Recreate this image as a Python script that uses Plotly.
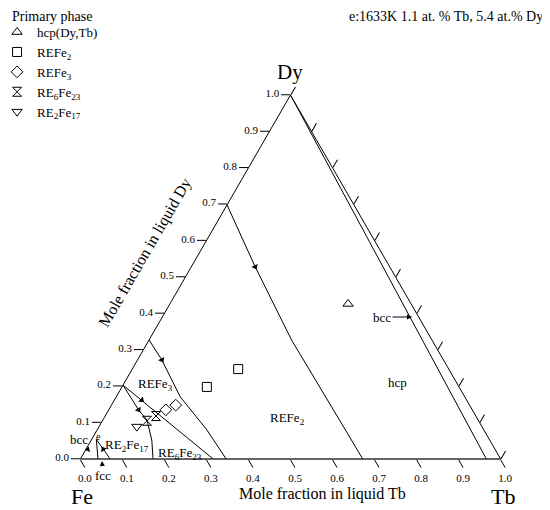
import plotly.graph_objects as go

# primary-phase alloy compositions (mole fractions in liquid)
hcp_tb = [0.424]
hcp_dy = [0.426]
refe2_tb = [0.252, 0.202]
refe2_dy = [0.247, 0.198]
refe3_tb = [0.136, 0.153]
refe3_dy = [0.135, 0.148]
re6fe23_tb = [0.121, 0.106]
re6fe23_dy = [0.118, 0.105]
re2fe17_tb = [0.090]
re2fe17_dy = [0.089]

# liquidus valley lines (Tb, Dy)
b_refe2_hcp_tb = [0.0, 0.152, 0.339, 0.672]
b_refe2_hcp_dy = [0.698, 0.528, 0.327, 0.0]
b_refe3_refe2_tb = [0.0, 0.058, 0.152, 0.261, 0.347]
b_refe3_refe2_dy = [0.327, 0.272, 0.171, 0.080, 0.0]
b_refe3_re6_tb = [0.0, 0.316]
b_refe3_re6_dy = [0.203, 0.0]
b_re2_re6_tb = [0.0, 0.071, 0.105, 0.144, 0.173]
b_re2_re6_dy = [0.203, 0.135, 0.107, 0.052, 0.0]
b_hcp_bcc_tb = [0.0, 0.966]
b_hcp_bcc_dy = [1.0, 0.0]
b_e1_tb = [0.011, 0.042]
b_e1_dy = [0.054, 0.0]
b_e2_tb = [0.011, 0.071]
b_e2_dy = [0.054, 0.0]

# direction arrows on valleys
arr_tb = [0.152, 0.058, 0.065, 0.071, 0.041]
arr_dy = [0.528, 0.272, 0.162, 0.135, 0.027]
arr_angle = [155, 151, 130, 146, 326]

ticks = [round(i * 0.1, 1) for i in range(11)]

SERIF = "Liberation Serif"


def fe(tb, dy):
    return [1 - t - d for t, d in zip(tb, dy)]


fig = go.Figure()

lines = [
    (b_refe2_hcp_tb, b_refe2_hcp_dy),
    (b_refe3_refe2_tb, b_refe3_refe2_dy),
    (b_refe3_re6_tb, b_refe3_re6_dy),
    (b_re2_re6_tb, b_re2_re6_dy),
    (b_hcp_bcc_tb, b_hcp_bcc_dy),
    (b_e1_tb, b_e1_dy),
    (b_e2_tb, b_e2_dy),
]
for tb, dy in lines:
    fig.add_trace(go.Scatterternary(
        a=dy, b=fe(tb, dy), c=tb, mode="lines",
        line=dict(color="black", width=1), showlegend=False, hoverinfo="skip"))

fig.add_trace(go.Scatterternary(
    a=arr_dy, b=fe(arr_tb, arr_dy), c=arr_tb, mode="markers",
    marker=dict(symbol="triangle-up", size=6, color="black", angle=arr_angle),
    showlegend=False, hoverinfo="skip"))

phases = [
    ("hcp(Dy,Tb)", hcp_tb, hcp_dy, "triangle-up-open"),
    ("REFe<sub>2</sub>", refe2_tb, refe2_dy, "square-open"),
    ("REFe<sub>3</sub>", refe3_tb, refe3_dy, "diamond-open"),
    ("RE<sub>6</sub>Fe<sub>23</sub>", re6fe23_tb, re6fe23_dy, "hourglass-open"),
    ("RE<sub>2</sub>Fe<sub>17</sub>", re2fe17_tb, re2fe17_dy, "triangle-down-open"),
]
for name, tb, dy, sym in phases:
    fig.add_trace(go.Scatterternary(
        a=dy, b=fe(tb, dy), c=tb, mode="markers", name=name,
        marker=dict(symbol=sym, size=9, color="black", line=dict(width=1))))

axis_common = dict(
    tickvals=ticks, ticks="outside", ticklen=9, tickcolor="black",
    linecolor="black", linewidth=1, showgrid=False, min=0,
    title=dict(text=""),
    tickfont=dict(family=SERIF, size=11, color="black"))

# page body adds 8px, so the div is drawn 8px smaller and margins shifted
fig.update_layout(
    width=542, height=502,
    margin=dict(l=72, r=49, t=87, b=51, autoexpand=False),
    paper_bgcolor="white",
    font=dict(family=SERIF, color="black", size=13),
    ternary=dict(
        sum=1, bgcolor="white",
        domain=dict(x=[0, 1], y=[0, 1]),
        aaxis=dict(ticktext=[f"{t:.1f}" for t in ticks], **axis_common),
        baxis=dict(ticktext=[f"{1 - t:.1f}" for t in ticks], **axis_common),
        caxis=dict(showticklabels=False, **axis_common),
    ),
    legend=dict(x=-0.197, y=1.214, xanchor="left", yanchor="top",
                bgcolor="rgba(0,0,0,0)", itemwidth=30, tracegroupgap=0,
                font=dict(family=SERIF, size=13)),
    showlegend=True,
)
fig.update_ternaries(baxis_linewidth=1.6, baxis_linecolor="#333")


def paper(px, py):
    return (px - 80) / 421, (459 - py) / 364


def label(px, py, text, size=13, xanchor="center", **kw):
    x, y = paper(px, py)
    fig.add_annotation(x=x, y=y, xref="paper", yref="paper", text=text,
                       showarrow=False, xanchor=xanchor, yanchor="middle",
                       font=dict(family=SERIF, size=size), **kw)


label(10, 16, "Primary phase", size=14, xanchor="left")
label(545, 16, "e:1633K 1.1 at. % Tb, 5.4 at.% Dy", size=14, xanchor="right")
label(290, 72, "Dy", size=21)
label(82, 496, "Fe", size=22)
label(503, 496, "Tb", size=22)
label(322, 494, "Mole fraction in liquid Tb", size=16)
label(145, 253, "Mole fraction in liquid Dy", size=16, textangle=-60)
label(155, 384, "REFe<sub>3</sub>")
label(287, 418, "REFe<sub>2</sub>")
label(397, 382, "hcp")
label(127, 445, "RE<sub>2</sub>Fe<sub>17</sub>")
label(180, 453, "RE<sub>6</sub>Fe<sub>23</sub>")
label(98, 436, "e", size=10)


def pointer(px, py, tx, ty, text):
    x, y = paper(px, py)
    fig.add_annotation(x=x, y=y, xref="paper", yref="paper", text=text,
                       showarrow=True, ax=tx - px, ay=ty - py, arrowhead=2,
                       arrowsize=1, arrowwidth=1, arrowcolor="black",
                       font=dict(family=SERIF, size=13))


pointer(412, 317, 382, 317, "bcc")
pointer(90, 452, 79, 439, "bcc")
pointer(102, 461, 103, 475, "fcc")

fig.write_html("out.html")
